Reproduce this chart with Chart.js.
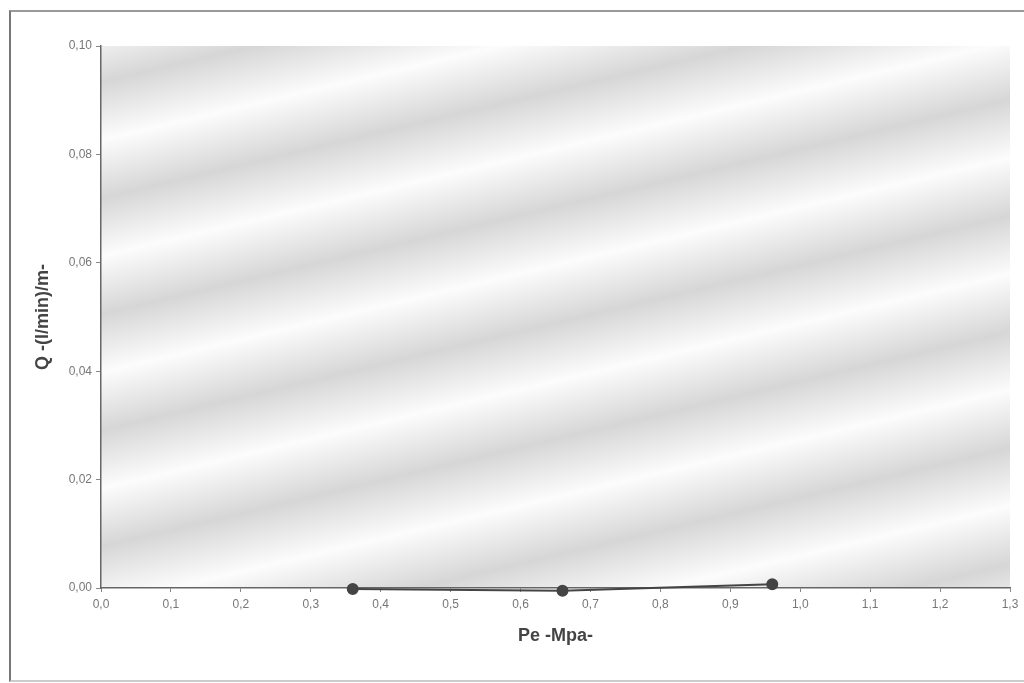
<!DOCTYPE html>
<html>
<head>
<meta charset="utf-8">
<script src="https://cdn.jsdelivr.net/npm/chart.js@4.4.0/dist/chart.umd.min.js"></script>
<style>
  html, body { margin: 0; padding: 0; background: #fff; }
  #wrap { position: relative; width: 1024px; height: 683px; }
  #frame { position: absolute; left: 9px; top: 10px; width: 1030px; height: 668px;
           border-left: 2px solid #777; border-top: 2px solid #999; border-bottom: 2px solid #ccc; }
  canvas { position: absolute; left: 0; top: 0; }
</style>
</head>
<body>
<div id="wrap">
  <div id="frame"></div>
  <canvas id="chart" width="1024" height="683"></canvas>
</div>
<script>
// Q en fonction de Pe
const peValues = [0.36, 0.66, 0.96];
const qValues = [-0.0002, -0.0005, 0.0007];
const xTicks = [0, 0.1, 0.2, 0.3, 0.4, 0.5, 0.6, 0.7, 0.8, 0.9, 1.0, 1.1, 1.2, 1.3];
const yTicks = [0, 0.02, 0.04, 0.06, 0.08, 0.10];

const points = peValues.map((x, i) => ({ x: x, y: qValues[i] }));

// fond gris avec bandes claires (aspect scan)
const plotBackground = {
  id: 'plotBackground',
  beforeDraw(chart) {
    const { ctx, chartArea: a } = chart;
    ctx.save();
    const g = ctx.createLinearGradient(a.left, a.top - 80, a.left + 260, a.top + 1020);
    for (let i = 0; i <= 10; i++) {
      g.addColorStop(i / 10, '#d6d6d6');
      if (i < 10) g.addColorStop(i / 10 + 0.05, '#fcfcfc');
    }
    ctx.fillStyle = g;
    ctx.fillRect(a.left, a.top, a.right - a.left, a.bottom - a.top);
    ctx.restore();
  }
};

const ctx = document.getElementById('chart').getContext('2d');
const chart = new Chart(ctx, {
  type: 'scatter',
  data: {
    datasets: [{
      data: points,
      showLine: true,
      borderColor: '#444',
      borderWidth: 2,
      backgroundColor: '#444',
      pointRadius: 5,
      pointHoverRadius: 5,
      clip: false
    }]
  },
  plugins: [plotBackground],
  options: {
    responsive: false,
    animation: false,
    layout: { padding: { left: 28, right: 14, top: 46, bottom: 32 } },
    plugins: { legend: { display: false }, tooltip: { enabled: false } },
    scales: {
      x: {
        type: 'linear',
        min: 0,
        max: 1.3,
        afterBuildTicks: function(axis) { axis.ticks = xTicks.map(v => ({ value: v })); },
        afterFit: function(axis) { axis.height = 63; },
        grid: { drawOnChartArea: false, drawTicks: true, tickLength: 4, color: '#888' },
        border: { color: '#666', width: 1.5 },
        ticks: {
          color: '#777',
          font: { family: 'Liberation Sans', size: 12 },
          padding: 5,
          maxRotation: 0,
          callback: v => v.toFixed(1).replace('.', ',')
        },
        title: {
          display: true,
          text: 'Pe -Mpa-',
          color: '#444',
          font: { family: 'Liberation Sans', size: 18, weight: 'bold' },
          padding: { top: 6 }
        }
      },
      y: {
        type: 'linear',
        min: 0,
        max: 0.1,
        afterBuildTicks: function(axis) { axis.ticks = yTicks.map(v => ({ value: v })); },
        afterFit: function(axis) { axis.width = 73; },
        grid: { drawOnChartArea: false, drawTicks: true, tickLength: 5, color: '#888' },
        border: { color: '#666', width: 1.5 },
        ticks: {
          color: '#777',
          font: { family: 'Liberation Sans', size: 12 },
          padding: 4,
          callback: v => v.toFixed(2).replace('.', ',')
        },
        title: {
          display: true,
          text: 'Q -(l/min)/m-',
          color: '#444',
          font: { family: 'Liberation Sans', size: 18, weight: 'bold' },
          padding: { bottom: 2 }
        }
      }
    }
  }
});
</script>
</body>
</html>
